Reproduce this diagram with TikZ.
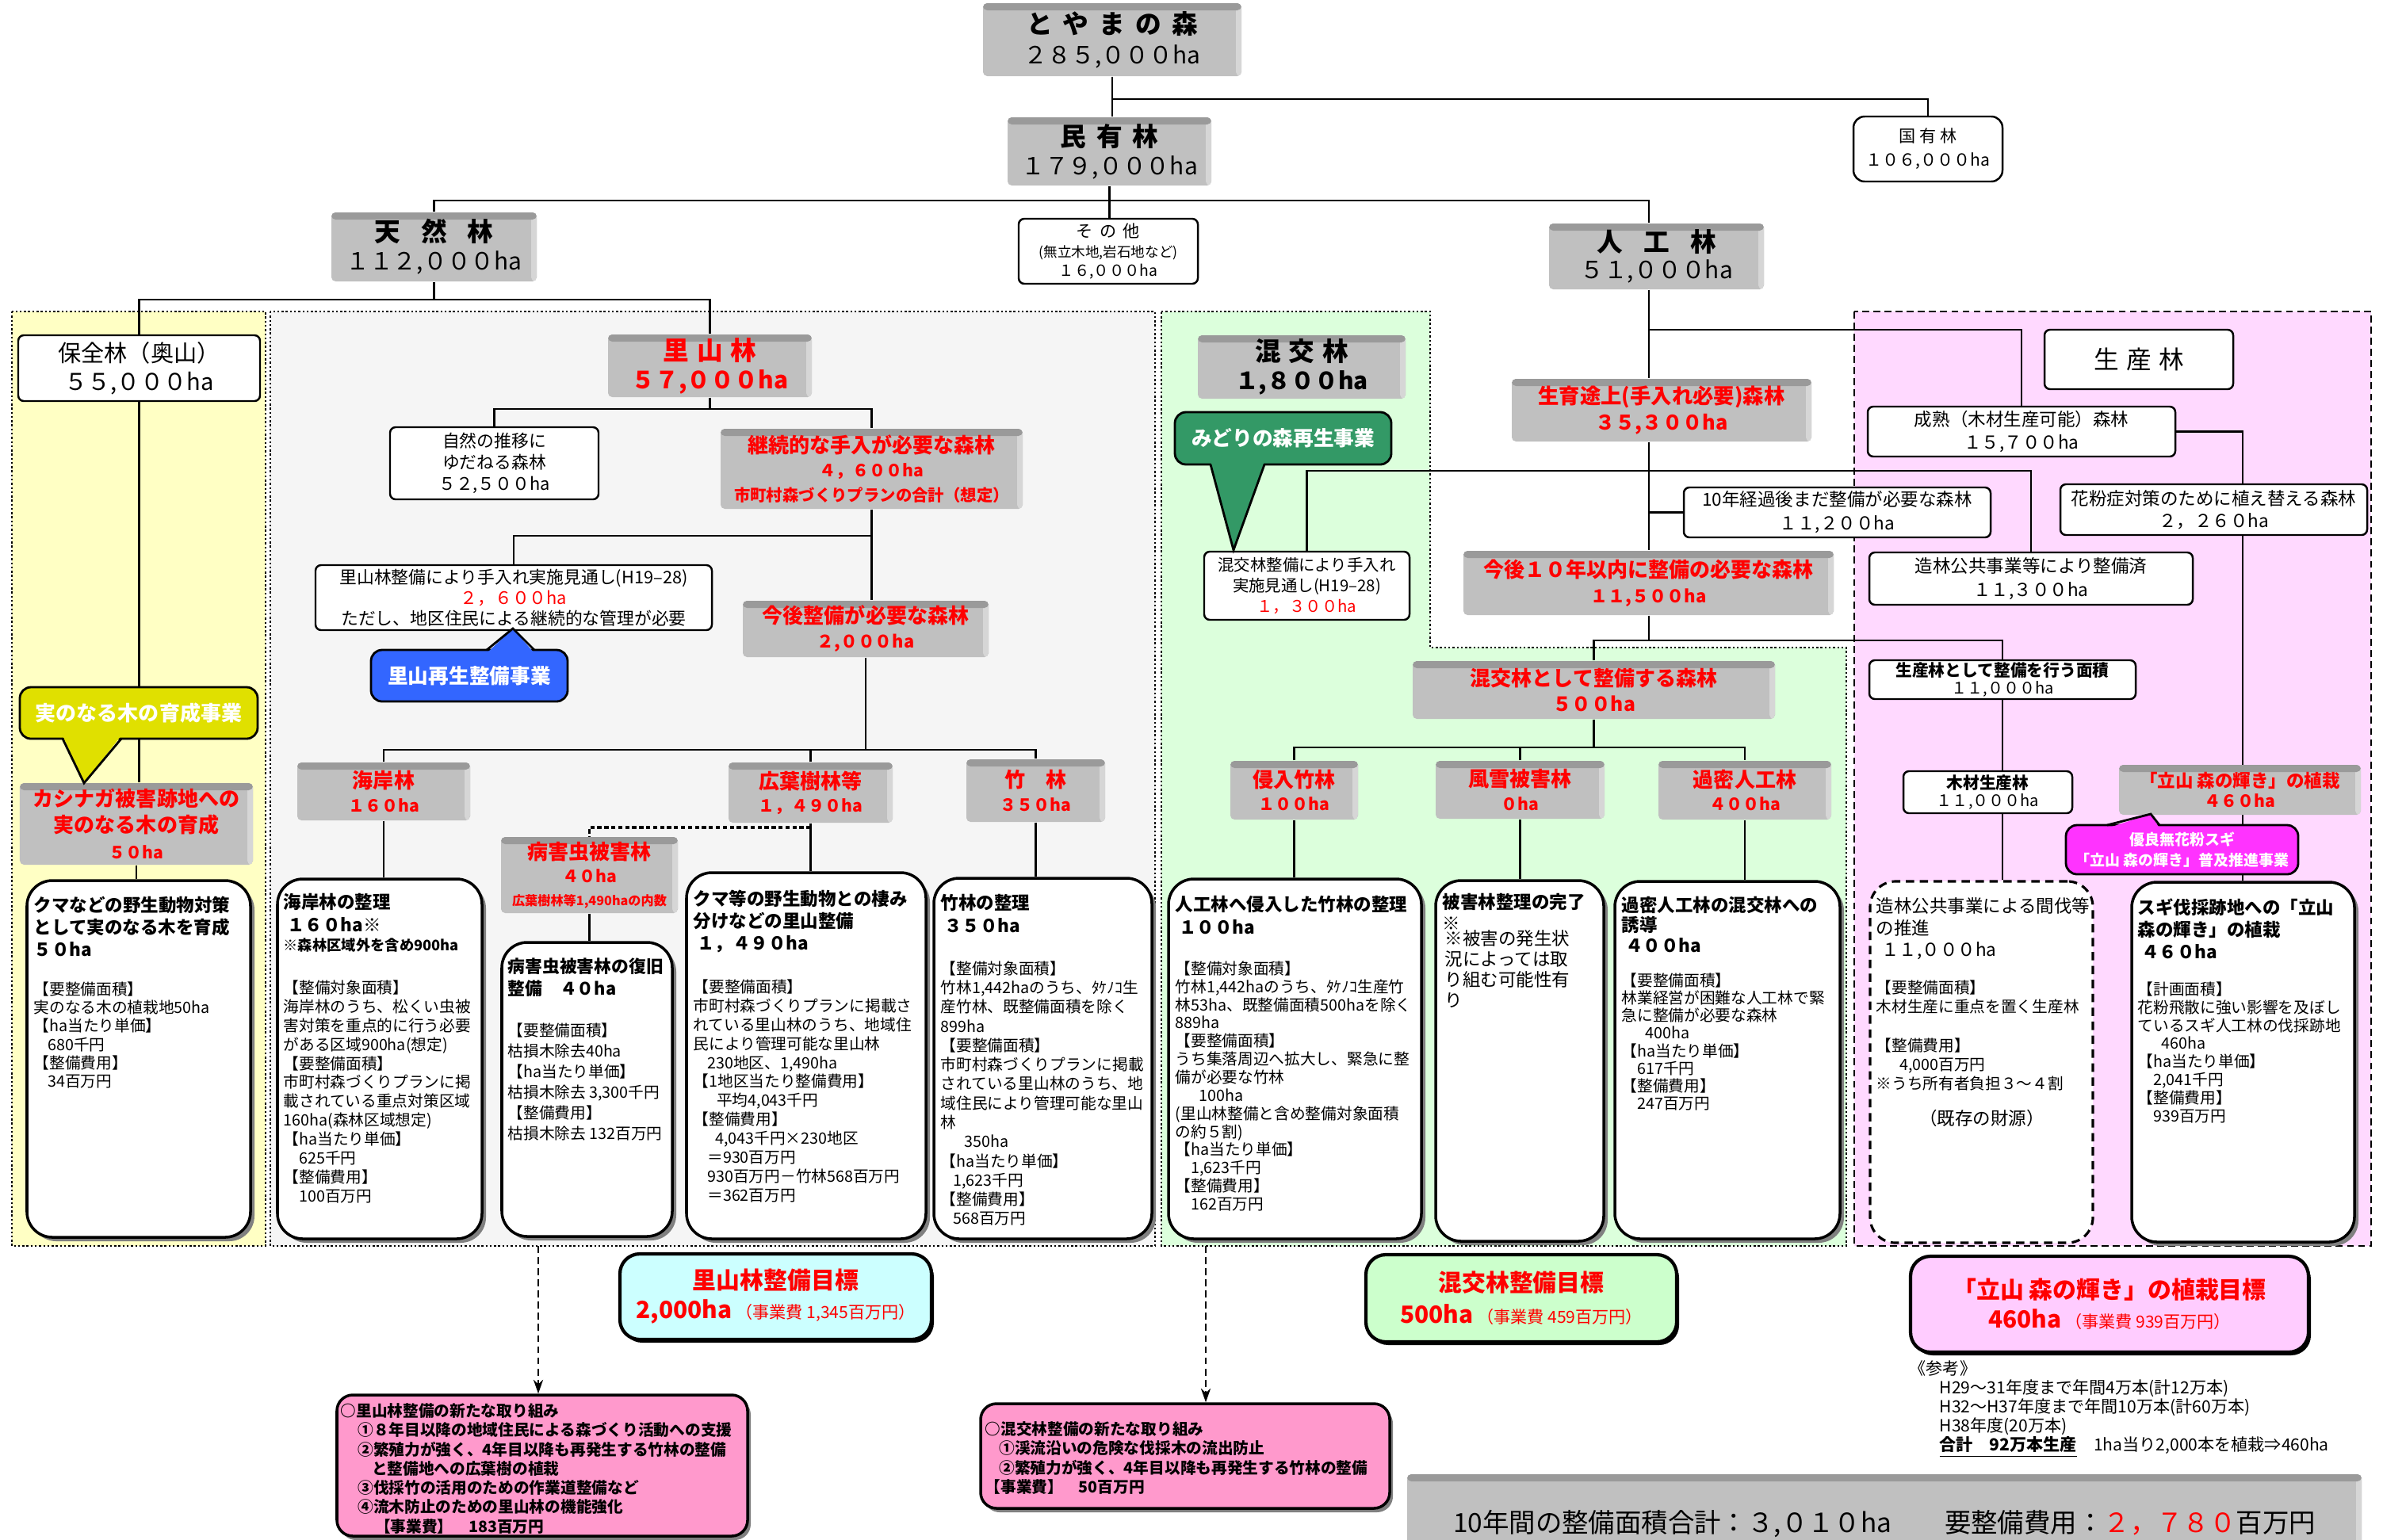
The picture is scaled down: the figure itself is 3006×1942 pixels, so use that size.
\documentclass[tikz,border=0pt]{standalone}
\usepackage{fontspec}
\setmainfont{Noto Sans CJK JP}
\usetikzlibrary{shadows,arrows.meta}
\pgfdeclarelayer{regions}
\pgfdeclarelayer{lines}
\pgfsetlayers{regions,lines,main}
\definecolor{boxgray}{HTML}{C0C0C0}
\definecolor{bevtop}{HTML}{9A9A9A}
\definecolor{bevside}{HTML}{D6D6D6}
\definecolor{regY}{HTML}{FFFFC4}
\definecolor{regG}{HTML}{F5F5F5}
\definecolor{regGr}{HTML}{DCFFDC}
\definecolor{regP}{HTML}{FFD9FF}
\definecolor{cY}{HTML}{E0E000}
\definecolor{cB}{HTML}{3366FF}
\definecolor{cGr}{HTML}{339966}
\definecolor{cM}{HTML}{FF33FF}
\definecolor{tC}{HTML}{CCFFFF}
\definecolor{tG}{HTML}{CCFFCC}
\definecolor{tP}{HTML}{FFCCFF}
\definecolor{nP}{HTML}{FF99CC}
\definecolor{myred}{HTML}{FF0000}
\definecolor{shd}{HTML}{808080}
\newcommand\fz[2]{\fontsize{#1pt}{#2pt}\selectfont}
\newcommand\tg{\hspace{0.4em}}
\newcommand\tw{\hspace{0.8em}}
\newcommand\mkbox[7]{%
 \pgfmathsetmacro\bw{(#5-#3)*0.01}%
 \pgfmathsetmacro\bh{(#6-#4)*0.01}%
 \node[#1, minimum width=\bw cm, minimum height=\bh cm] (#2) at ({(#3+#5)/2},{(#4+#6)/2}) {#7};}
\tikzset{
 conn/.style={draw=black, line width=0.6pt},
 gbox/.style={fill=boxgray, inner sep=0pt, align=center, rounded corners=1.5pt,
   path picture={
     \fill[bevside] ([xshift=-0.07cm]path picture bounding box.north east) rectangle (path picture bounding box.south east);
     \fill[bevtop] (path picture bounding box.north west) rectangle ([yshift=-0.09cm]path picture bounding box.north east);
   }},
 rlab/.style={gbox, text=myred},
 wbox/.style={draw=black, fill=white, line width=0.7pt, inner sep=0pt, align=center, rounded corners=2pt},
 dbox/.style={draw=black, fill=white, line width=1pt, rounded corners=0.32cm, inner sep=0pt,
   drop shadow={shadow xshift=0.05cm, shadow yshift=-0.05cm, fill=shd, opacity=1}},
 dtitle/.style={anchor=north west, inner sep=0pt, align=left, font=\fz{6.4}{8}\bfseries},
 dbody/.style={anchor=north west, inner sep=0pt, align=left, font=\fz{5.6}{6.8}},
 callbox/.style={draw=black, line width=0.8pt, rounded corners=0.14cm, inner sep=0pt, align=center, text=white, font=\fz{7.3}{9}\bfseries},
 ptr/.style={draw=black, line width=0.8pt, line join=miter},
 tgt/.style={draw=black, line width=1.2pt, rounded corners=0.25cm, inner sep=0pt, align=center,
   drop shadow={shadow xshift=0.03cm, shadow yshift=-0.04cm, fill=black, opacity=1}},
 newbox/.style={draw=black, line width=1pt, fill=nP, rounded corners=0.2cm, inner sep=0pt,
   drop shadow={shadow xshift=0.04cm, shadow yshift=-0.05cm, fill=shd, opacity=1}},
 ntext/.style={anchor=north west, inner sep=0pt, align=left, font=\fz{5.6}{6.9}\bfseries},
 dotb/.style={draw=black, line width=0.7pt, dash pattern=on 0.7pt off 0.8pt},
 darrow/.style={draw=black, line width=0.4pt, dash pattern=on 2.5pt off 1.5pt, -{Stealth[length=5pt,width=3.5pt]}},
}
\begin{document}
\begin{tikzpicture}[x=0.01cm,y=-0.01cm]
\useasboundingbox (0,0) rectangle (3006,1942);
\begin{pgfonlayer}{regions}
\fill[white] (0,0) rectangle (3006,1942);
\fill[regY] (15,393) rectangle (335,1572);
\draw[dotb] (15,393) rectangle (335,1572);
\fill[regG] (341,393) rectangle (1457,1572);
\draw[dotb] (341,393) rectangle (1457,1572);
\fill[regGr] (1465,393) -- (1804,393) -- (1804,817) -- (2329,817) -- (2329,1572) -- (1465,1572) -- cycle;
\draw[dotb] (1465,393) -- (1804,393) -- (1804,817) -- (2329,817) -- (2329,1572) -- (1465,1572) -- cycle;
\fill[regP] (2339,393) rectangle (2991,1572);
\draw[draw=black, line width=0.6pt, dash pattern=on 2.5pt off 1.5pt] (2339,393) rectangle (2991,1572);
\end{pgfonlayer}
\clip (0,0) rectangle (3006,1942);

% ---------- nodes ----------
\mkbox{gbox,font=\fz{9.3}{10.8}\bfseries}{toyama}{1240}{4}{1566}{96}{と\tg や\tg ま\tg の\tg 森\\{\fz{8.5}{9}\mdseries ２８５,０００ha}}
\mkbox{gbox,font=\fz{9.3}{10.3}\bfseries}{minyu}{1271}{148}{1528}{234}{民\tg 有\tg 林\\{\fz{8.5}{9}\mdseries １７９,０００ha}}
\mkbox{wbox,font=\fz{6}{8.5},rounded corners=4pt}{kokuyu}{2338}{147}{2526}{229}{国 有 林\\１０６,０００ha}
\mkbox{wbox,font=\fz{5.5}{7.1}}{sonota}{1285}{276}{1511}{358}{{\fz{6}{7}そ\tg の\tg 他}\\{\fz{5}{6}(無立木地,岩石地など)}\\１６,０００ha}
\mkbox{gbox,font=\fz{9.3}{10.3}\bfseries}{tennen}{418}{268}{677}{355}{天\tw 然\tw 林\\{\fz{8.5}{9}\mdseries １１２,０００ha}}
\mkbox{gbox,font=\fz{9.3}{9.5}\bfseries}{jinko}{1954}{282}{2225}{365}{人\tw 工\tw 林\\{\fz{8.5}{9}\mdseries ５１,０００ha}}

\mkbox{wbox,font=\fz{8.3}{10.3}}{hozen}{23}{423}{328}{506}{保全林（奥山）\\５５,０００ha}
\mkbox{rlab,font=\fz{9.3}{10.3}\bfseries}{satoyama}{767}{422}{1024}{501}{里\hspace{0.3em}山\hspace{0.3em}林\\{\fz{8.5}{9}５７,０００ha}}
\mkbox{gbox,font=\fz{9.3}{10.3}\bfseries}{konko}{1511}{423}{1773}{503}{混\hspace{0.3em}交\hspace{0.3em}林\\{\fz{8.5}{9}１,８００ha}}
\mkbox{wbox,font=\fz{9}{10}}{seisan}{2579}{416}{2817}{491}{生\hspace{0.3em}産\hspace{0.3em}林}

\mkbox{wbox,font=\fz{6.2}{7.6}}{shizen}{492}{539}{755}{630}{自然の推移に\\ゆだねる森林\\５２,５００ha}
\mkbox{rlab,font=\fz{7.4}{8.6}\bfseries}{keizoku}{909}{541}{1290}{642}{継続的な手入が必要な森林\\{\fz{6}{7}４，６００ha}\\{\fz{5.8}{7}市町村森づくりプランの合計（想定）}}
\mkbox{wbox,font=\fz{6.2}{7.4}}{mitoshi}{398}{713}{898}{795}{里山林整備により手入れ実施見通し(H19–28)\\{\color{myred}２，６００ha}\\ただし、地区住民による継続的な管理が必要}
\mkbox{rlab,font=\fz{7.4}{8.8}\bfseries}{kongo}{937}{758}{1247}{829}{今後整備が必要な森林\\{\fz{6.2}{7}２,０００ha}}
\mkbox{rlab,font=\fz{7.4}{9.5}\bfseries}{kashinaga}{25}{988}{319}{1091}{カシナガ被害跡地への\\実のなる木の育成\\{\fz{6}{7}５０ha}}
\mkbox{rlab,font=\fz{7.4}{8.3}\bfseries}{kaigan}{375}{962}{593}{1035}{海岸林\\{\fz{6}{7}１６０ha}}
\mkbox{rlab,font=\fz{7.4}{8.3}\bfseries}{kouyou}{919}{962}{1126}{1038}{広葉樹林等\\{\fz{6}{7}１，４９０ha}}
\mkbox{rlab,font=\fz{7.4}{8.3}\bfseries}{chikurin}{1219}{958}{1394}{1037}{竹　林\\{\fz{6}{7}３５０ha}}
\mkbox{rlab,font=\fz{7.4}{8.3}\bfseries}{byougai}{632}{1056}{855}{1152}{病害虫被害林\\{\fz{6}{7}４０ha}\\{\fz{4.6}{6}広葉樹林等1,490haの内数}}

\mkbox{wbox,font=\fz{5.8}{7.3}}{kongoMix}{1519}{696}{1778}{782}{混交林整備により手入れ\\実施見通し(H19–28)\\{\color{myred}１，３００ha}}
\mkbox{rlab,font=\fz{7.5}{9.5}\bfseries}{seiiku}{1907}{478}{2285}{557}{生育途上(手入れ必要)森林\\{\fz{7.2}{8}３５,３００ha}}
\mkbox{wbox,font=\fz{6.4}{8.5}}{juunen}{2124}{615}{2511}{678}{10年経過後まだ整備が必要な森林\\１１,２００ha}
\mkbox{rlab,font=\fz{7.4}{9}\bfseries}{konen10}{1846}{695}{2313}{776}{今後１０年以内に整備の必要な森林\\{\fz{6.3}{7}１１,５００ha}}
\mkbox{rlab,font=\fz{7.4}{9}\bfseries}{konkouSeibi}{1782}{834}{2239}{907}{混交林として整備する森林\\{\fz{7}{8}５００ha}}
\mkbox{rlab,font=\fz{7.4}{8.3}\bfseries}{shinnyu}{1552}{960}{1713}{1034}{侵入竹林\\{\fz{6}{7}１００ha}}
\mkbox{rlab,font=\fz{7.4}{8.3}\bfseries}{fuusetsu}{1811}{960}{2024}{1033}{風雪被害林\\{\fz{6}{7}０ha}}
\mkbox{rlab,font=\fz{7.4}{8.3}\bfseries}{kamitsu}{2092}{960}{2310}{1034}{過密人工林\\{\fz{6}{7}４００ha}}

\mkbox{wbox,font=\fz{6.4}{8}}{seijuku}{2356}{513}{2744}{576}{成熟（木材生産可能）森林\\１５,７００ha}
\mkbox{wbox,font=\fz{6.4}{8}}{kafun}{2599}{611}{2986}{675}{花粉症対策のために植え替える森林\\２，２６０ha}
\mkbox{wbox,font=\fz{6.4}{8.5}}{zourin}{2358}{697}{2766}{763}{造林公共事業等により整備済\\１１,３００ha}
\mkbox{wbox,font=\fz{5.9}{6.5}}{seisanSeibi}{2358}{833}{2694}{882}{{\bfseries 生産林として整備を行う面積}\\{\fz{5.7}{6.5}１１,０００ha}}
\mkbox{wbox,font=\fz{5.9}{6.5}}{mokuzai}{2401}{973}{2614}{1026}{{\bfseries 木材生産林}\\{\fz{5.7}{6.5}１１,０００ha}}
\mkbox{rlab,font=\fz{6.4}{7.3}\bfseries}{tateyama}{2673}{965}{2978}{1028}{「立山 森の輝き」の植栽\\{\fz{6}{7}４６０ha}}

% detail boxes
\mkbox{dbox}{kuma1D}{34}{1111}{316}{1561}{}
\mkbox{dbox}{kaiganD}{350}{1109}{608}{1563}{}
\mkbox{dbox}{byougaiD}{633}{1189}{848}{1560}{}
\mkbox{dbox}{kumaSatoD}{866}{1101}{1168}{1563}{}
\mkbox{dbox}{chikurinD}{1178}{1108}{1453}{1563}{}
\mkbox{dbox}{shinnyuD}{1474}{1109}{1793}{1563}{}
\mkbox{dbox}{fuusetsuD}{1811}{1111}{2023}{1566}{}
\mkbox{dbox}{kamitsuD}{2037}{1112}{2321}{1563}{}
\mkbox{draw=black, fill=white, line width=0.9pt, dash pattern=on 3pt off 2pt, rounded corners=0.32cm, inner sep=0pt}{zourinD}{2359}{1112}{2640}{1568}{}
\mkbox{dbox}{sugiD}{2689}{1113}{2970}{1567}{}

% ---------- connectors (on a layer under the boxes) ----------
\coordinate (y125) at (0,125);
\coordinate (y253) at (0,253);
\coordinate (y378) at (0,378);
\coordinate (y416) at (0,416);
\coordinate (y516) at (0,516);
\coordinate (y594) at (0,594);
\coordinate (y676) at (0,676);
\coordinate (y808) at (0,808);
\coordinate (y943) at (0,943);
\coordinate (y946) at (0,946);
\coordinate (y1044) at (0,1044);
\coordinate (xt) at (2080,0);
\coordinate (xk) at (2829,0);
\begin{pgfonlayer}{lines}
\draw[conn] (toyama.south) -- (toyama.south |- minyu.north);
\draw[conn] (toyama.south |- y125) -| (kokuyu.north);
\draw[conn] (minyu.south) -- (minyu.south |- sonota.north);
\draw[conn] (tennen.north) |- (xt |- y253) -- (xt |- jinko.north);
\draw[conn] (tennen.south) -- (tennen.south |- y378);
\draw[conn] (hozen.north) |- (satoyama.north |- y378) -- (satoyama.north);
\draw[conn] (hozen.south) -- (hozen.south |- kashinaga.north);
\draw[conn] (kashinaga.south) -- (kashinaga.south |- kuma1D.north);
\draw[conn] (satoyama.south) -- (satoyama.south |- y516);
\draw[conn] (shizen.north) |- (keizoku.north |- y516) -- (keizoku.north);
\draw[conn] (keizoku.south) -- (keizoku.south |- kongo.north);
\draw[conn] (mitoshi.north) |- (keizoku.south |- y676);
\draw[conn] (kongo.south) -- (kongo.south |- y946);
\draw[conn] (kaigan.north) |- (chikurin.north |- y946) -- (chikurin.north);
\draw[conn] (kouyou.north) -- (kouyou.north |- y946);
\draw[conn] (kaigan.south) -- (kaigan.south |- kaiganD.north);
\draw[conn] (kouyou.south) -- (kouyou.south |- kumaSatoD.north);
\draw[conn] (chikurin.south) -- (chikurin.south |- chikurinD.north);
\draw[conn] (byougai.south) -- (byougai.south |- byougaiD.north);
\draw[draw=black, line width=1.1pt, dash pattern=on 1.5pt off 1pt] (kouyou.south |- y1044) -| (byougai.north);
\draw[conn] (xt |- jinko.south) -- (xt |- seiiku.north);
\draw[conn] (xt |- y416) -| (seijuku.north);
\draw[conn] (xt |- seiiku.south) -- (xt |- konen10.north);
\draw[conn] (kongoMix.north) |- (zourin.north |- y594) -- (zourin.north);
\draw[conn] (xt |- juunen.west) -- (juunen.west);
\draw[conn] (xt |- konen10.south) -- (xt |- y808);
\draw[conn] (konkouSeibi.north) |- (seisanSeibi.north |- y808) -- (seisanSeibi.north);
\draw[conn] (konkouSeibi.south) -- (konkouSeibi.south |- y943);
\draw[conn] (shinnyu.north) |- (kamitsu.north |- y943) -- (kamitsu.north);
\draw[conn] (fuusetsu.north) -- (fuusetsu.north |- y943);
\draw[conn] (shinnyu.south) -- (shinnyu.south |- shinnyuD.north);
\draw[conn] (fuusetsu.south) -- (fuusetsu.south |- fuusetsuD.north);
\draw[conn] (kamitsu.south) -- (kamitsu.south |- kamitsuD.north);
\draw[conn] (seisanSeibi.south) -- (seisanSeibi.south |- zourinD.north);
\draw[conn] (seijuku.east) -| (xk |- kafun.north);
\draw[conn] (xk |- kafun.south) -- (xk |- sugiD.north);
\end{pgfonlayer}

% ---------- callouts ----------
\mkbox{callbox,fill=cY,font=\fz{7.4}{9}\bfseries}{cbY}{25}{867}{325}{932}{実のなる木の育成事業}
\fill[cY] (79,928) -- (106,988) -- (153,928) -- cycle;
\draw[ptr] (79,932) -- (106,988) -- (153,932);
\mkbox{callbox,fill=cB}{cbB}{468}{820}{716}{885}{里山再生整備事業}
\fill[cB] (614,824) -- (647,793) -- (674,824) -- cycle;
\draw[ptr] (614,820) -- (647,793) -- (674,820);
\mkbox{callbox,fill=cGr}{cbG}{1482}{520}{1755}{586}{みどりの森再生事業}
\fill[cGr] (1527,582) -- (1556,694) -- (1595,582) -- cycle;
\draw[ptr] (1527,586) -- (1556,694) -- (1595,586);
\mkbox{callbox,fill=cM,font=\fz{5.4}{7.3}\bfseries}{cbM}{2606}{1041}{2899}{1103}{優良無花粉スギ\\「立山 森の輝き」普及推進事業}
\fill[cM] (2658,1045) -- (2713,1027) -- (2724,1045) -- cycle;
\draw[ptr] (2658,1041) -- (2713,1027) -- (2724,1041);

% ---------- detail texts ----------
\node[dtitle] (kuma1Dt) at (42,1130) {クマなどの野生動物対策\\として実のなる木を育成\\５０ha};
\node[dbody, font=\fz{5.6}{6.6}] (kuma1Db) at (42,1238) {【要整備面積】\\実のなる木の植栽地50ha\\【ha当たり単価】\\\hspace*{0.9em}680千円\\【整備費用】\\\hspace*{0.9em}34百万円};

\node[dtitle] (kaiganDt) at (357,1127) {海岸林の整理\\\hspace*{0.2em}１６０ha※};
\node[anchor=north west, inner sep=0pt, font=\fz{5.2}{6.5}\bfseries] (kaiganDn) at (357,1183) {※森林区域外を含め900ha};
\node[dbody] (kaiganDb) at (357,1236) {【整備対象面積】\\海岸林のうち、松くい虫被\\害対策を重点的に行う必要\\がある区域900ha(想定)\\【要整備面積】\\市町村森づくりプランに掲\\載されている重点対策区域\\160ha(森林区域想定)\\【ha当たり単価】\\\hspace*{1em}625千円\\【整備費用】\\\hspace*{1em}100百万円};

\node[dtitle, font=\fz{6.2}{8}\bfseries] (byougaiDt) at (640,1208) {病害虫被害林の復旧\\整備\hspace*{1em}４０ha};
\node[dbody, font=\fz{5.6}{7.4}] (byougaiDb) at (640,1290) {【要整備面積】\\枯損木除去40ha\\【ha当たり単価】\\枯損木除去 3,300千円\\【整備費用】\\枯損木除去 132百万円};

\node[dtitle] (kumaSatoDt) at (874,1122) {クマ等の野生動物との棲み\\分けなどの里山整備\\\hspace*{0.2em}１，４９０ha};
\node[dbody] (kumaSatoDb) at (874,1235) {【要整備面積】\\市町村森づくりプランに掲載さ\\れている里山林のうち、地域住\\民により管理可能な里山林\\\hspace*{0.9em}230地区、1,490ha\\【1地区当たり整備費用】\\\hspace*{1.5em}平均4,043千円\\【整備費用】\\\hspace*{1.4em}4,043千円×230地区\\\hspace*{0.9em}＝930百万円\\\hspace*{0.9em}930百万円－竹林568百万円\\\hspace*{0.9em}＝362百万円};

\node[dtitle] (chikurinDt) at (1186,1128) {竹林の整理\\\hspace*{0.2em}３５０ha};
\node[dbody, font=\fz{5.6}{6.9}] (chikurinDb) at (1186,1212) {【整備対象面積】\\竹林1,442haのうち、ﾀｹﾉｺ生\\産竹林、既整備面積を除く\\899ha\\【要整備面積】\\市町村森づくりプランに掲載\\されている里山林のうち、地\\域住民により管理可能な里山\\林\\\hspace*{1.5em}350ha\\【ha当たり単価】\\\hspace*{0.8em}1,623千円\\【整備費用】\\\hspace*{0.8em}568百万円};

\node[dtitle] (shinnyuDt) at (1482,1130) {人工林へ侵入した竹林の整理\\\hspace*{0.2em}１００ha};
\node[dbody, font=\fz{5.6}{6.5}] (shinnyuDb) at (1482,1212) {【整備対象面積】\\竹林1,442haのうち、ﾀｹﾉｺ生産竹\\林53ha、既整備面積500haを除く\\889ha\\【要整備面積】\\うち集落周辺へ拡大し、緊急に整\\備が必要な竹林\\\hspace*{1.5em}100ha\\(里山林整備と含め整備対象面積\\の約５割)\\【ha当たり単価】\\\hspace*{1em}1,623千円\\【整備費用】\\\hspace*{1em}162百万円};

\node[dtitle, font=\fz{6.4}{7.4}\bfseries] (fuusetsuDt) at (1819,1127) {被害林整理の完了\\※};
\node[dbody, font=\fz{6.4}{7.4}] (fuusetsuDb) at (1822,1173) {※被害の発生状\\況によっては取\\り組む可能性有\\り};

\node[dtitle, font=\fz{6.4}{7.3}\bfseries] (kamitsuDt) at (2045,1130) {過密人工林の混交林への\\誘導\\\hspace*{0.2em}４００ha};
\node[dbody, font=\fz{5.6}{6.3}] (kamitsuDb) at (2045,1227) {【要整備面積】\\林業経営が困難な人工林で緊\\急に整備が必要な森林\\\hspace*{1.5em}400ha\\【ha当たり単価】\\\hspace*{1em}617千円\\【整備費用】\\\hspace*{1em}247百万円};

\node[dtitle, font=\fz{6.4}{7.8}] (zourinDt) at (2366,1132) {造林公共事業による間伐等\\の推進\\\hspace*{0.3em}１１,０００ha};
\node[dbody, font=\fz{5.6}{6.9}] (zourinDb) at (2366,1236) {【要整備面積】\\木材生産に重点を置く生産林\\[6.9pt]【整備費用】\\\hspace*{1.5em}4,000百万円\\※うち所有者負担３～４割};
\node[inner sep=0pt, font=\fz{6.4}{7}] (zourinDz) at (2500,1411) {（既存の財源）};

\node[dtitle] (sugiDt) at (2696,1133) {スギ伐採跡地への「立山\\森の輝き」の植栽\\\hspace*{0.2em}４６０ha};
\node[dbody, font=\fz{5.6}{6.5}] (sugiDb) at (2696,1238) {【計画面積】\\花粉飛散に強い影響を及ぼし\\ているスギ人工林の伐採跡地\\\hspace*{1.5em}460ha\\【ha当たり単価】\\\hspace*{1em}2,041千円\\【整備費用】\\\hspace*{1em}939百万円};

% ---------- targets, new boxes, summary ----------
\mkbox{tgt,fill=tC,text=myred,font=\fz{8.5}{10.5}\bfseries}{satoT}{782}{1582}{1175}{1690}{里山林整備目標\\2,000ha\,{\fz{6}{7}\mdseries（事業費 1,345百万円）}}
\mkbox{tgt,fill=tG,text=myred,font=\fz{8.5}{11.4}\bfseries}{konkoT}{1723}{1583}{2115}{1693}{混交林整備目標\\500ha\,{\fz{6}{7}\mdseries（事業費 459百万円）}}
\mkbox{tgt,fill=tP,text=myred,font=\fz{8.5}{10.5}\bfseries}{tateT}{2410}{1585}{2912}{1706}{「立山 森の輝き」の植栽目標\\460ha\,{\fz{6}{7}\mdseries（事業費 939百万円）}}
\mkbox{newbox}{satoNew}{425}{1760}{943}{1938}{}
\mkbox{newbox}{konkoNew}{1237}{1771}{1753}{1903}{}
\coordinate (arr1) at (679,1572);
\coordinate (arr2) at (1521,1572);
\draw[darrow] (arr1) -- (arr1 |- satoNew.north);
\draw[darrow] (arr2) -- (arr2 |- konkoNew.north);
\node[ntext] (satoNewT) at (429,1770) {○里山林整備の新たな取り組み\\\hspace*{1.1em}①８年目以降の地域住民による森づくり活動への支援\\\hspace*{1.1em}②繁殖力が強く、4年目以降も再発生する竹林の整備\\\hspace*{2em}と整備地への広葉樹の植栽\\\hspace*{1.1em}③伐採竹の活用のための作業道整備など\\\hspace*{1.1em}④流木防止のための里山林の機能強化\\\hspace*{2.2em}【事業費】\hspace*{1em}183百万円};
\node[ntext] (konkoNewT) at (1242,1793) {○混交林整備の新たな取り組み\\\hspace*{0.9em}①渓流沿いの危険な伐採木の流出防止\\\hspace*{0.9em}②繁殖力が強く、4年目以降も再発生する竹林の整備\\【事業費】\hspace*{1em}50百万円};
\node[anchor=north west, inner sep=0pt, align=left, font=\fz{6}{6.8}] (sankou) at (2408,1716) {《参考》\\\hspace*{1.8em}H29～31年度まで年間4万本(計12万本)\\\hspace*{1.8em}H32～H37年度まで年間10万本(計60万本)\\\hspace*{1.8em}H38年度(20万本)\\\hspace*{1.8em}\underline{\bfseries 合計\hspace*{1em}92万本生産}\hspace*{1em}1ha当り2,000本を植栽⇒460ha};
\mkbox{gbox,font=\fz{9.5}{11}}{bar}{1775}{1860}{2979}{1985}{10年間の整備面積合計：３,０１０ha\hspace{2em}要整備費用：{\color{myred}２，７８０}百万円}

\end{tikzpicture}
\end{document}
